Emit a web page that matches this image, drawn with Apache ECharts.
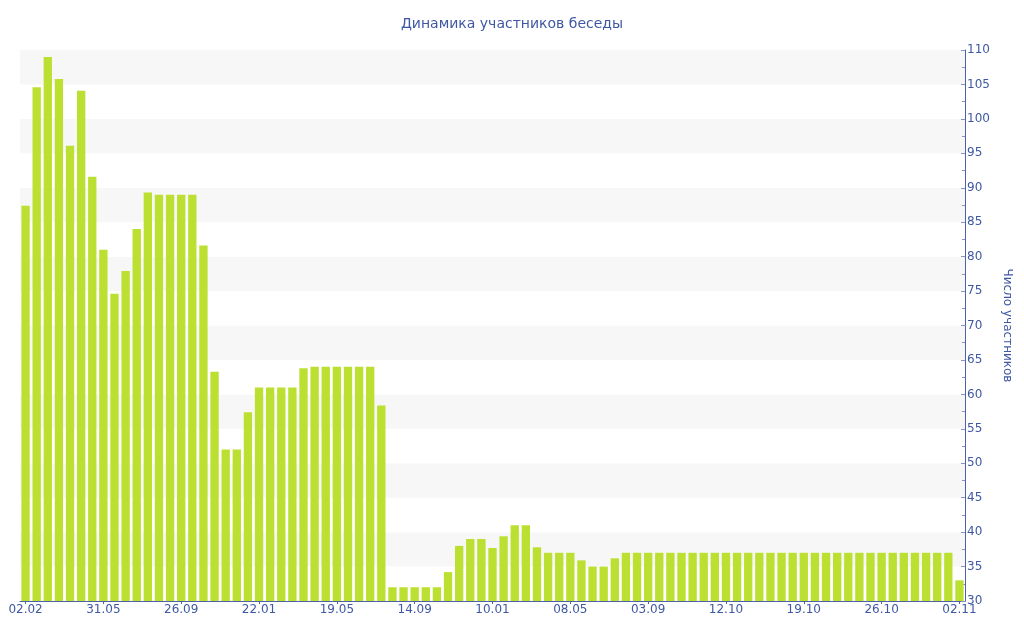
<!DOCTYPE html>
<html>
<head>
<meta charset="utf-8">
<script src="https://cdn.jsdelivr.net/npm/echarts@6/dist/echarts.min.js"></script>
<style>html,body{margin:0;padding:0;background:#fff}#c{width:1024px;height:640px}</style>
</head>
<body>
<div id="c"></div>
<script>
const chartTitle = 'Динамика участников беседы';
const yAxisName = 'Число участников';
const tickLabels = ['02.02','31.05','26.09','22.01','19.05','14.09','10.01','08.05','03.09','12.10','19.10','26.10','02.11'];
const tickStep = 7;
const values = [
  87.4, 104.6, 109.0, 105.8, 96.1, 104.1, 91.6, 81.0, 74.6, 77.9,
  84.0, 89.3, 89.0, 89.0, 89.0, 89.0, 81.6, 63.3, 52.0, 52.0,
  57.4, 61.0, 61.0, 61.0, 61.0, 63.8, 64.0, 64.0, 64.0, 64.0,
  64.0, 64.0, 58.4, 32.0, 32.0, 32.0, 32.0, 32.0, 34.2, 38.0,
  39.0, 39.0, 37.7, 39.4, 41.0, 41.0, 37.8, 37.0, 37.0, 37.0,
  35.9, 35.0, 35.0, 36.2, 37.0, 37.0, 37.0, 37.0, 37.0, 37.0,
  37.0, 37.0, 37.0, 37.0, 37.0, 37.0, 37.0, 37.0, 37.0, 37.0,
  37.0, 37.0, 37.0, 37.0, 37.0, 37.0, 37.0, 37.0, 37.0, 37.0,
  37.0, 37.0, 37.0, 37.0, 33.0
];
const categories = values.map((v, i) => (i % tickStep === 0 ? tickLabels[i / tickStep] : ''));

const textColor = '#3f58a3';
const lineColor = '#4d62a6';
const font = 'DejaVu Sans';

const chart = echarts.init(document.getElementById('c'), null, {renderer: 'canvas'});
chart.setOption({
  animation: false,
  title: {
    text: chartTitle,
    left: 'center',
    top: 12,
    textStyle: {color: textColor, fontSize: 14, fontWeight: 'normal', fontFamily: font}
  },
  grid: {left: 20, right: 59, top: 50, bottom: 39, containLabel: false},
  xAxis: {
    type: 'category',
    data: categories,
    boundaryGap: true,
    axisLine: {lineStyle: {color: lineColor, width: 1}},
    axisTick: {show: true, interval: tickStep - 1, alignWithLabel: true, length: 3, lineStyle: {color: lineColor}},
    axisLabel: {interval: tickStep - 1, color: textColor, fontSize: 12, fontFamily: font, margin: 3},
    splitLine: {show: false}
  },
  yAxis: {
    type: 'value',
    position: 'right',
    min: 30,
    max: 110,
    interval: 5,
    name: yAxisName,
    nameLocation: 'middle',
    nameRotate: -90,
    nameGap: 34,
    nameTextStyle: {color: textColor, fontSize: 12, fontFamily: font},
    axisLine: {show: true, lineStyle: {color: lineColor, width: 1}},
    axisTick: {show: true, inside: true, length: 4, lineStyle: {color: '#8a95bd'}},
    minorTick: {show: true, splitNumber: 2, length: 3, lineStyle: {color: '#8a95bd'}},
    axisLabel: {color: textColor, fontSize: 12, fontFamily: font, margin: 2},
    splitLine: {show: false},
    splitArea: {show: true, areaStyle: {color: ['#ffffff', '#f7f7f7']}}
  },
  series: [{
    type: 'bar',
    data: values,
    barWidth: '75%',
    itemStyle: {color: '#bce031'}
  }]
});
</script>
</body>
</html>
